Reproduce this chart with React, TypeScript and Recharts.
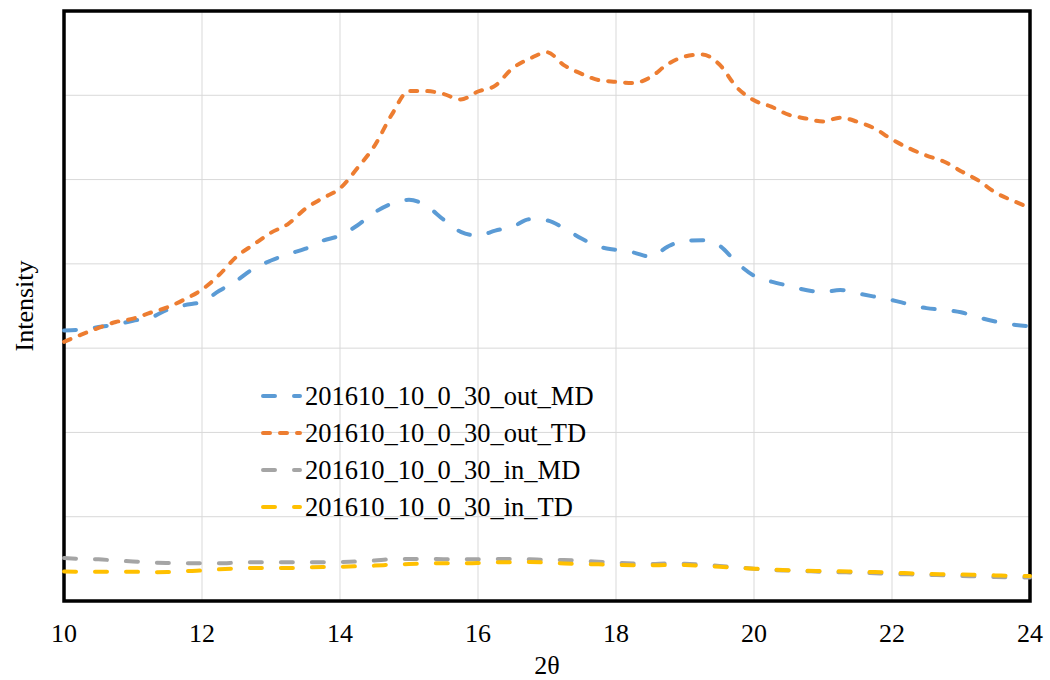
import { CartesianGrid, Line, LineChart, ReferenceArea, XAxis, YAxis } from "recharts";

const TWO_THETA = [
  10, 10.25, 10.5, 10.75, 11, 11.25, 11.5, 11.75, 12, 12.25, 12.5, 12.75, 13, 13.25, 13.5, 13.75,
  14, 14.25, 14.5, 14.75, 15, 15.25, 15.5, 15.75, 16, 16.25, 16.5, 16.75, 17, 17.25, 17.5, 17.75,
  18, 18.25, 18.5, 18.75, 19, 19.25, 19.5, 19.75, 20, 20.25, 20.5, 20.75, 21, 21.25, 21.5, 21.75,
  22, 22.25, 22.5, 22.75, 23, 23.25, 23.5, 23.75, 24,
];

const OUT_MD = [
  3210, 3220, 3250, 3280, 3325, 3360, 3455, 3510, 3550, 3680, 3800, 3945, 4040, 4115, 4180, 4275,
  4335, 4455, 4610, 4715, 4760, 4690, 4525, 4380, 4335, 4395, 4440, 4530, 4515, 4420, 4300, 4205,
  4165, 4135, 4085, 4205, 4275, 4280, 4215, 4015, 3860, 3790, 3740, 3690, 3665, 3690, 3650, 3610,
  3570, 3520, 3475, 3455, 3425, 3365, 3315, 3280, 3260,
];

const OUT_TD = [
  3075, 3160, 3240, 3310, 3350, 3420, 3485, 3580, 3695, 3870, 4085, 4230, 4370, 4475, 4655, 4780,
  4895, 5135, 5400, 5770, 6050, 6050, 6015, 5950, 6045, 6115, 6320, 6435, 6510, 6355, 6255, 6180,
  6160, 6145, 6215, 6370, 6460, 6485, 6365, 6095, 5940, 5865, 5770, 5725, 5690, 5735, 5685, 5605,
  5475, 5370, 5285, 5215, 5100, 4990, 4845, 4750, 4665,
];

const IN_MD = [
  510, 500, 495, 480, 470, 457, 451, 448, 448, 448, 455, 460, 460, 460, 460, 461,
  463, 469, 481, 495, 499, 499, 496, 495, 496, 499, 498, 494, 489, 487, 477, 466,
  455, 445, 439, 445, 442, 430, 416, 399, 382, 368, 361, 354, 347, 342, 337, 329,
  321, 316, 311, 304, 298, 291, 285, 281, 279,
];

const IN_TD = [
  350, 348, 348, 348, 347, 342, 344, 354, 362, 376, 386, 392, 390, 391, 398, 404,
  407, 412, 420, 431, 439, 445, 448, 448, 451, 460, 461, 462, 455, 445, 439, 435,
  429, 425, 424, 426, 426, 417, 406, 395, 384, 373, 366, 359, 356, 352, 347, 343,
  337, 329, 321, 317, 314, 309, 304, 299, 297,
];

const X_TICKS = [10, 12, 14, 16, 18, 20, 22, 24];
const Y_TICKS = [0, 1000, 2000, 3000, 4000, 5000, 6000, 7000];

const SERIES = [
  { key: "outMD", name: "201610_10_0_30_out_MD", color: "#5B9BD5", dash: "12 19" },
  { key: "outTD", name: "201610_10_0_30_out_TD", color: "#ED7D31", dash: "7 10" },
  { key: "inMD", name: "201610_10_0_30_in_MD", color: "#A5A5A5", dash: "12 19" },
  { key: "inTD", name: "201610_10_0_30_in_TD", color: "#FFC000", dash: "12 19" },
];

const data = TWO_THETA.map((theta, i) => ({
  theta,
  outMD: OUT_MD[i],
  outTD: OUT_TD[i],
  inMD: IN_MD[i],
  inTD: IN_TD[i],
}));

const FONT = '"Liberation Serif", "Times New Roman", serif';

// legend sits inside the plot area, drawn as an overlay so it doesn't shrink the chart
function SeriesLegend() {
  return (
    <div
      style={{
        position: "absolute",
        left: 259,
        top: 377,
        fontFamily: FONT,
        fontSize: 26.5,
        color: "#000",
      }}
    >
      {SERIES.map((s) => (
        <div key={s.key} style={{ display: "flex", alignItems: "center", height: 37 }}>
          <svg width={44} height={10} style={{ marginRight: 2 }}>
            <line
              x1={4}
              y1={5}
              x2={41}
              y2={5}
              stroke={s.color}
              strokeWidth={4}
              strokeLinecap="round"
              strokeDasharray={s.dash}
            />
          </svg>
          <span style={{ lineHeight: "26px" }}>{s.name}</span>
        </div>
      ))}
    </div>
  );
}

export default function App() {
  return (
    <div style={{ position: "absolute", left: 0, top: 0, width: 1050, height: 680, background: "#fff" }}>
      <LineChart width={1050} height={680} data={data} margin={{ top: 11, right: 20, bottom: 0, left: 0 }}>
        <CartesianGrid stroke="#D9D9D9" strokeWidth={1} />
        <XAxis
          dataKey="theta"
          type="number"
          domain={[10, 24]}
          ticks={X_TICKS}
          tickLine={false}
          axisLine={false}
          tickSize={0}
          tickMargin={23}
          height={79}
          tick={{ fill: "#000", fontSize: 26, fontFamily: FONT }}
          label={{
            value: "2θ",
            position: "insideBottom",
            offset: 6,
            style: { fill: "#000", fontSize: 26, fontFamily: FONT },
          }}
        />
        <YAxis
          type="number"
          domain={[0, 7000]}
          ticks={Y_TICKS}
          width={64}
          tickFormatter={() => ""}
          tickLine={false}
          axisLine={false}
          label={{
            value: "Intensity",
            angle: -90,
            position: "insideLeft",
            offset: 24,
            style: { fill: "#000", fontSize: 26, fontFamily: FONT, textAnchor: "middle" },
          }}
        />
        {SERIES.map((s) => (
          <Line
            key={s.key}
            type="monotone"
            dataKey={s.key}
            name={s.name}
            stroke={s.color}
            strokeWidth={4}
            strokeLinecap="round"
            strokeDasharray={s.dash}
            dot={false}
            activeDot={false}
            isAnimationActive={false}
          />
        ))}
        <ReferenceArea x1={10} x2={24} y1={0} y2={7000} fill="none" stroke="#000" strokeWidth={3.5} ifOverflow="visible" />
      </LineChart>
      <SeriesLegend />
    </div>
  );
}
